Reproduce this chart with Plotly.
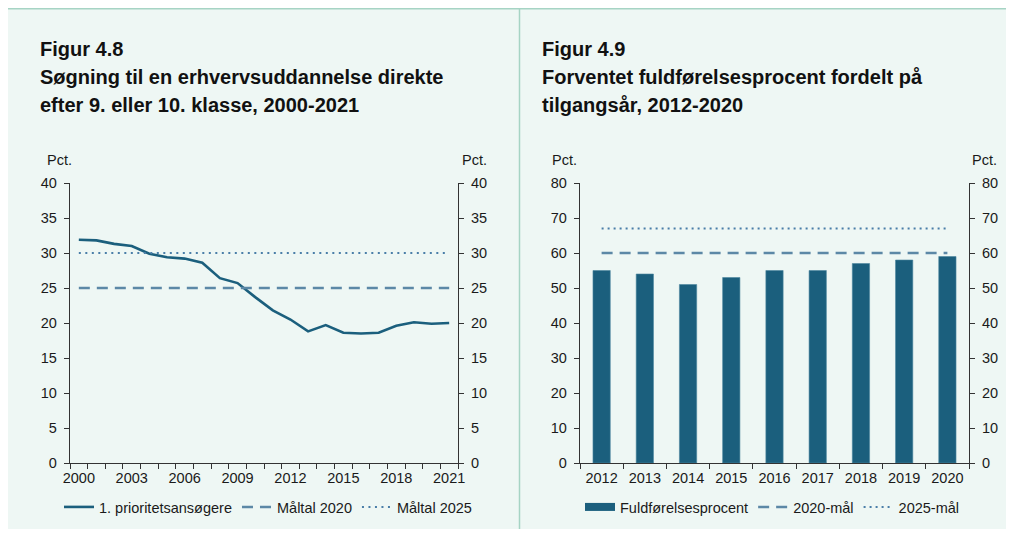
import plotly.graph_objects as go

# The page adds an 8px body margin, so the figure fills the rest of the 1014x537 window.
OFF = 8
W, H = 1014 - 2 * OFF, 537 - 2 * OFF

# ---- Data: Figur 4.8 ----
years_a = [2000, 2001, 2002, 2003, 2004, 2005, 2006, 2007, 2008, 2009, 2010,
           2011, 2012, 2013, 2014, 2015, 2016, 2017, 2018, 2019, 2020, 2021]
prioritet = [31.9, 31.8, 31.3, 31.0, 29.9, 29.4, 29.2, 28.6, 26.4, 25.7, 23.7,
             21.8, 20.5, 18.8, 19.7, 18.6, 18.5, 18.6, 19.6, 20.1, 19.9, 20.0]
maaltal_2020 = 25
maaltal_2025 = 30
ticks_a = [2000, 2003, 2006, 2009, 2012, 2015, 2018, 2021]

# ---- Data: Figur 4.9 ----
years_b = [2012, 2013, 2014, 2015, 2016, 2017, 2018, 2019, 2020]
fuldfoerelse = [55, 54, 51, 53, 55, 55, 57, 58, 59]
maal_2020 = 60
maal_2025 = 67

# ---- Styles ----
FONT = "Liberation Sans, Arial, sans-serif"
BG = "#EEF7F4"
BORDER = "#A6D4C4"
MAIN = "#1B5F7D"
DASH_C = "#5C88A6"
DOT_C = "#4A7EA8"
AXIS_C = "#333333"
TXT = "#1A1A1A"
TICKF = 14.5


def px(x):  # screen x -> paper
    return (x - OFF) / W


def py(y):  # screen y -> paper
    return 1 - (y - OFF) / H


fig = go.Figure()

# Figur 4.8 traces
fig.add_trace(go.Scatter(x=years_a, y=prioritet, mode="lines", name="1. prioritetsansøgere",
                         line=dict(color=MAIN, width=2.6), xaxis="x", yaxis="y", legend="legend"))
fig.add_trace(go.Scatter(x=[years_a[0], years_a[-1]], y=[maaltal_2020, maaltal_2020], mode="lines",
                         name="Måltal 2020", line=dict(color=DASH_C, width=2.6, dash="11px,7px"),
                         xaxis="x", yaxis="y", legend="legend"))
fig.add_trace(go.Scatter(x=[years_a[0], years_a[-1]], y=[maaltal_2025, maaltal_2025], mode="lines",
                         name="Måltal 2025", line=dict(color=DOT_C, width=2, dash="2px,4.5px"),
                         xaxis="x", yaxis="y", legend="legend"))

# Figur 4.9 traces
fig.add_trace(go.Bar(x=years_b, y=fuldfoerelse, name="Fuldførelsesprocent", width=0.4,
                     marker=dict(color=MAIN, line=dict(color="#4E86A0", width=0.6)),
                     xaxis="x2", yaxis="y3", showlegend=False))
fig.add_trace(go.Scatter(x=[None], y=[None], mode="lines", name="Fuldførelsesprocent",
                         line=dict(color=MAIN, width=8), xaxis="x2", yaxis="y3", legend="legend2"))
fig.add_trace(go.Scatter(x=[years_b[0], years_b[-1]], y=[maal_2020, maal_2020], mode="lines",
                         name="2020-mål", line=dict(color=DASH_C, width=2.6, dash="11px,7px"),
                         xaxis="x2", yaxis="y3", legend="legend2"))
fig.add_trace(go.Scatter(x=[years_b[0], years_b[-1]], y=[maal_2025, maal_2025], mode="lines",
                         name="2025-mål", line=dict(color=DOT_C, width=2, dash="2px,4px"),
                         xaxis="x2", yaxis="y3", legend="legend2"))

# empty traces so the mirrored right-hand axes render
fig.add_trace(go.Scatter(x=[None], y=[None], xaxis="x", yaxis="y2", showlegend=False))
fig.add_trace(go.Scatter(x=[None], y=[None], xaxis="x2", yaxis="y4", showlegend=False))

yd = [py(463), py(183)]
tickfont = dict(family=FONT, size=TICKF, color=TXT)


def xaxis(domain, rng, tickvals, anchor):
    return dict(domain=domain, range=rng, tickvals=tickvals, ticks="outside", ticklen=1,
                tickcolor="rgba(0,0,0,0)", showline=True, linecolor=AXIS_C, linewidth=1.3,
                showgrid=False, zeroline=False, tickfont=tickfont, anchor=anchor, fixedrange=True,
                automargin=False,
                minor=dict(tick0=rng[0], dtick=1, ticks="outside", ticklen=5, tickcolor=AXIS_C,
                           tickwidth=1.3, showgrid=False))


def yaxis(domain, rng, dtick, side, overlaying=None, anchor=None):
    d = dict(domain=domain, range=rng, dtick=dtick, ticks="outside", ticklen=5, tickcolor=AXIS_C,
             tickwidth=1.3, showline=True, linecolor=AXIS_C, linewidth=1.3, showgrid=False,
             zeroline=False, tickfont=tickfont, side=side, fixedrange=True, automargin=False,
             ticklabelstandoff=4)
    if overlaying:
        d["overlaying"] = overlaying
    if anchor:
        d["anchor"] = anchor
    return d


fig.update_layout(
    width=W, height=H, margin=dict(l=0, r=0, t=0, b=0, pad=0, autoexpand=False),
    paper_bgcolor=BG, plot_bgcolor="rgba(0,0,0,0)",
    font=dict(family=FONT, size=TICKF, color=TXT),
    barmode="overlay",
    xaxis=xaxis([px(70), px(458)], [1999.5, 2021.5], ticks_a, "y"),
    yaxis=yaxis(yd, [0, 40], 5, "left", anchor="x"),
    yaxis2=yaxis(yd, [0, 40], 5, "right", overlaying="y", anchor="x"),
    xaxis2=xaxis([px(580), px(969)], [2011.5, 2020.5], years_b, "y3"),
    yaxis3=yaxis(yd, [0, 80], 10, "left", anchor="x2"),
    yaxis4=yaxis(yd, [0, 80], 10, "right", overlaying="y3", anchor="x2"),
    legend=dict(orientation="h", x=px(59), xanchor="left", y=py(507), yanchor="middle",
                bgcolor="rgba(0,0,0,0)", font=dict(family=FONT, size=TICKF, color=TXT)),
    legend2=dict(orientation="h", x=px(580), xanchor="left", y=py(507), yanchor="middle",
                 bgcolor="rgba(0,0,0,0)", font=dict(family=FONT, size=TICKF, color=TXT)),
    shapes=[
        dict(type="line", xref="paper", yref="paper", x0=0, x1=1, y0=py(8.7), y1=py(8.7),
             line=dict(color=BORDER, width=1.5), layer="below"),
        dict(type="line", xref="paper", yref="paper", x0=px(519.5), x1=px(519.5), y0=0, y1=1,
             line=dict(color=BORDER, width=1.5), layer="below"),
    ],
)

annots = []
TITLE = 20


def title(x, lines):
    for yc, txt in zip([49, 77, 105.5], lines):
        annots.append(dict(text=f"<b>{txt}</b>", x=px(x), y=py(yc), xref="paper", yref="paper",
                           xanchor="left", yanchor="middle", showarrow=False,
                           font=dict(family=FONT, size=TITLE, color="#111111")))


title(38, ["Figur 4.8", "Søgning til en erhvervsuddannelse direkte",
           "efter 9. eller 10. klasse, 2000-2021"])
title(540, ["Figur 4.9", "Forventet fuldførelsesprocent fordelt på", "tilgangsår, 2012-2020"])

for xc in [59, 474.5, 564.5, 984.5]:
    annots.append(dict(text="Pct.", x=px(xc), y=py(160), xref="paper", yref="paper",
                       xanchor="center", yanchor="middle", showarrow=False,
                       font=dict(family=FONT, size=TICKF, color=TXT)))

fig.update_layout(annotations=annots)

fig.write_html("out.html")
